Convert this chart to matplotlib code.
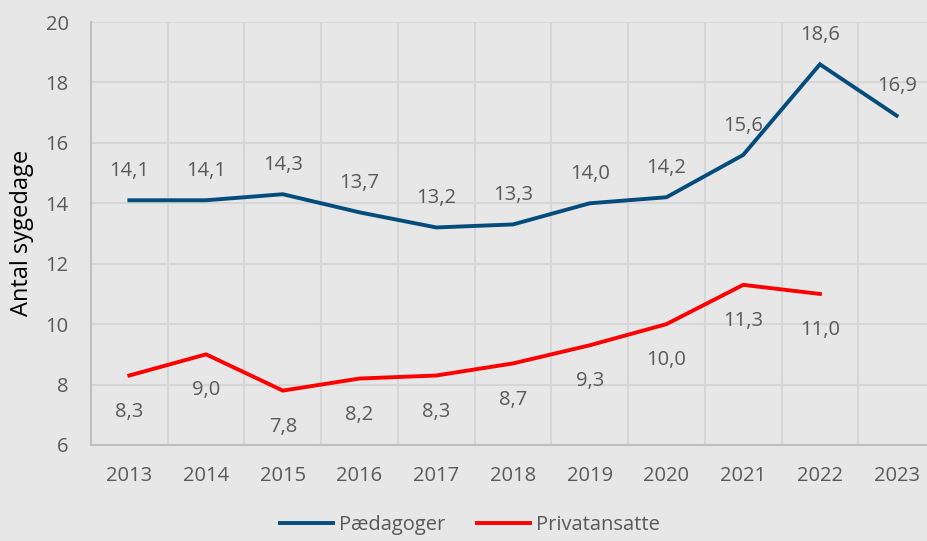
import matplotlib
matplotlib.use("Agg")
import matplotlib.pyplot as plt

years = ["2013", "2014", "2015", "2016", "2017", "2018", "2019", "2020", "2021", "2022", "2023"]
paedagoger = [14.1, 14.1, 14.3, 13.7, 13.2, 13.3, 14.0, 14.2, 15.6, 18.6, 16.9]
privatansatte = [8.3, 9.0, 7.8, 8.2, 8.3, 8.7, 9.3, 10.0, 11.3, 11.0]
yticks = [6, 8, 10, 12, 14, 16, 18, 20]

plt.rcParams['font.family'] = ['Open Sans', 'DejaVu Sans']
BG = '#e7e7e7'
TXT = '#595959'
BLUE = '#044c7c'
RED = '#ff0000'
FS = 14.5

fig = plt.figure(figsize=(9.28, 5.41), dpi=100, facecolor=BG)
ax = fig.add_axes([91/928, 96/541, 844/928, 423/541])
ax.set_facecolor(BG)

x1 = list(range(len(paedagoger)))
x2 = list(range(len(privatansatte)))
ax.plot(x1, paedagoger, color=BLUE, lw=2.8, solid_joinstyle='miter', label='Pædagoger', zorder=3)
ax.plot(x2, privatansatte, color=RED, lw=2.8, solid_joinstyle='miter', label='Privatansatte', zorder=3)

for x, v in zip(x1, paedagoger):
    ax.annotate(f"{v:.1f}".replace('.', ','), (x, v), xytext=(0, 21), textcoords='offset points',
                ha='center', va='center', fontsize=FS, color=TXT)
for x, v in zip(x2, privatansatte):
    ax.annotate(f"{v:.1f}".replace('.', ','), (x, v), xytext=(0, -26), textcoords='offset points',
                ha='center', va='center', fontsize=FS, color=TXT)

ax.set_xlim(-0.5, len(years) - 0.5)
ax.set_ylim(6, 20)
ax.set_yticks(yticks)
ax.set_yticklabels([str(t) for t in yticks])
ax.set_xticks(range(len(years)))
ax.set_xticklabels(years)
ax.set_xticks([i - 0.5 for i in range(len(years) + 1)], minor=True)
ax.tick_params(axis='both', which='both', length=0, labelsize=FS, labelcolor=TXT)
ax.tick_params(axis='y', pad=16)
ax.tick_params(axis='x', pad=15)
ax.grid(True, which='minor', axis='x', color='#d6d6d6', lw=1.5)
ax.grid(True, which='major', axis='y', color='#d6d6d6', lw=1.5)
ax.set_axisbelow(True)
for s in ['top', 'right']:
    ax.spines[s].set_visible(False)
for s in ['left', 'bottom']:
    ax.spines[s].set_color('#bfbfbf')
    ax.spines[s].set_linewidth(1.5)

fig.text(22/928, 1 - 233/541, 'Antal sygedage', rotation=90, ha='center', va='center',
         fontsize=17, color='black')

leg = fig.legend(loc='center', bbox_to_anchor=(470/928, 1 - 525/541), ncol=2, frameon=False,
                 fontsize=FS, handlelength=2.6, handletextpad=0.3, columnspacing=1.6)
for t in leg.get_texts():
    t.set_color(TXT)

fig.savefig('out.png', dpi=100, facecolor=BG)
